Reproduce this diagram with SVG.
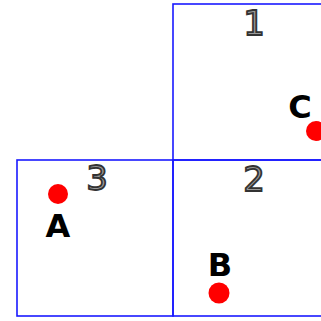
<svg xmlns="http://www.w3.org/2000/svg" width="321" height="321" viewBox="0 0 321 321">
<style>
.box{fill:none;stroke:#1a1aff;stroke-width:1.6}
.num{font-family:"DejaVu Sans",sans-serif;font-size:34px;fill:#9a9a9a;stroke:#333;stroke-width:1.8;paint-order:fill;text-anchor:middle}
.lbl{font-family:"DejaVu Sans",sans-serif;font-weight:bold;font-size:32px;fill:#000;text-anchor:middle}
.pt{fill:#ff0000}
</style>
<rect width="321" height="321" fill="#fff"/>
<g id="box1"><rect class="box" x="173" y="4" width="156" height="156"/><text class="num" x="254" y="35">1</text></g>
<g id="box2"><rect class="box" x="173" y="160" width="156" height="156"/><text class="num" x="254" y="191">2</text></g>
<g id="box3"><rect class="box" x="17" y="160" width="156" height="156"/><text class="num" x="97" y="190">3</text></g>
<g id="pointA"><circle class="pt" cx="58" cy="194" r="10"/><text class="lbl" x="58" y="237">A</text></g>
<g id="pointB"><circle class="pt" cx="219" cy="293" r="10.5"/><text class="lbl" x="220" y="276">B</text></g>
<g id="pointC"><circle class="pt" cx="316" cy="131" r="10"/><text class="lbl" x="300" y="118">C</text></g>
</svg>
